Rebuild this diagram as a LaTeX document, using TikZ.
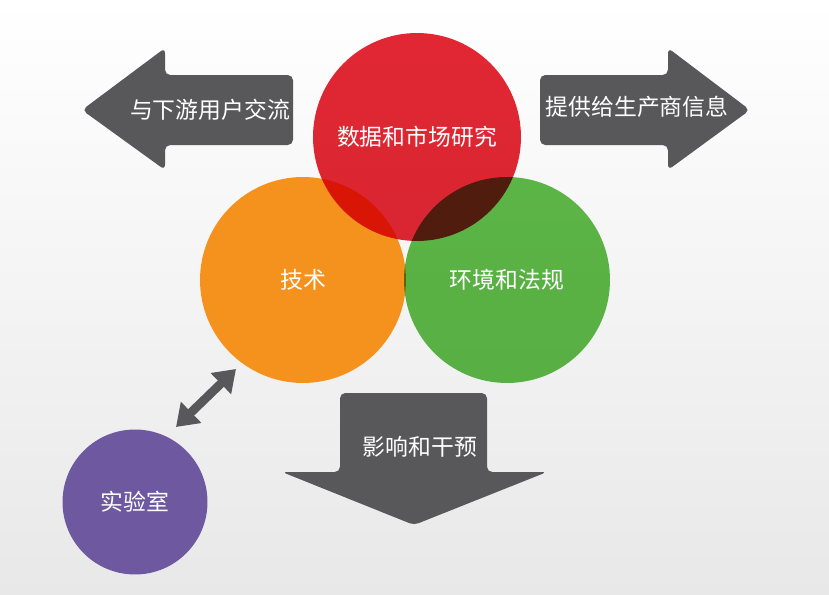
\documentclass[tikz,border=0pt]{standalone}
\usepackage{fontspec}
\newfontfamily\cjk{Noto Sans CJK SC}
\usetikzlibrary{arrows.meta}
\usetikzlibrary{positioning}
\definecolor{arrgray}{RGB}{88,88,90}
\definecolor{cred}{RGB}{226,40,52}
\definecolor{corange}{RGB}{245,146,30}
\definecolor{cgreen}{RGB}{94,186,72}
\definecolor{cpurple}{RGB}{110,88,160}
\tikzset{
	ring/.style={circle, minimum size=#1, inner sep=0pt},
	lbl/.style={text=white, font=\cjk\fontsize{13}{15}\selectfont},
	bigarrow/.style={fill=arrgray, rounded corners=3pt}
}
\begin{document}
\begin{tikzpicture}[x=0.02cm, y=-0.02cm]
	\shade[top color=white, bottom color=black!9] (0,0) rectangle (829,595);
	\useasboundingbox (0,0) rectangle (829,595);
	% big arrows
	\fill[bigarrow] (293,75) -- (165,75) -- (165,48) -- (82,110) -- (165,170) -- (165,145) -- (293,145) -- cycle;
	\fill[bigarrow] (540,75) -- (668,75) -- (668,48) -- (750,110) -- (668,170) -- (668,145) -- (540,145) -- cycle;
	\fill[bigarrow] (340,393) -- (487,393) -- (487,472) -- (547,472) -- (414,525) -- (282,472) -- (340,472) -- cycle;
	\node[lbl] (users) at (210,110) {与下游用户交流};
	\node[lbl] (makers) at (637,107) {提供给生产商信息};
	\node[lbl] (impact) at (420,447) {影响和干预};
	% circles
	\node[ring=4.12cm, fill=corange] (tech) at (303,280) {};
	\node[ring=4.12cm, fill=cgreen, blend mode=multiply] (env) at (507,280) {};
	\node[ring=4.16cm, fill=cred, blend mode=multiply] (data) at (417,137) {};
	\node[ring=2.9cm, fill=cpurple] (lab) at (135,502) {};
	\node[lbl] at (data) {数据和市场研究};
	\node[lbl] at (tech) {技术};
	\node[lbl] at (env) {环境和法规};
	\node[lbl] at (lab) {实验室};
	% link
	\coordinate (la) at (176,427);
	\coordinate (lb) at (236,369);
	\draw[arrgray, line width=5pt, {Triangle[length=12pt,width=16pt]}-{Triangle[length=12pt,width=16pt]}] (la) -- (lb);
\end{tikzpicture}
\end{document}
